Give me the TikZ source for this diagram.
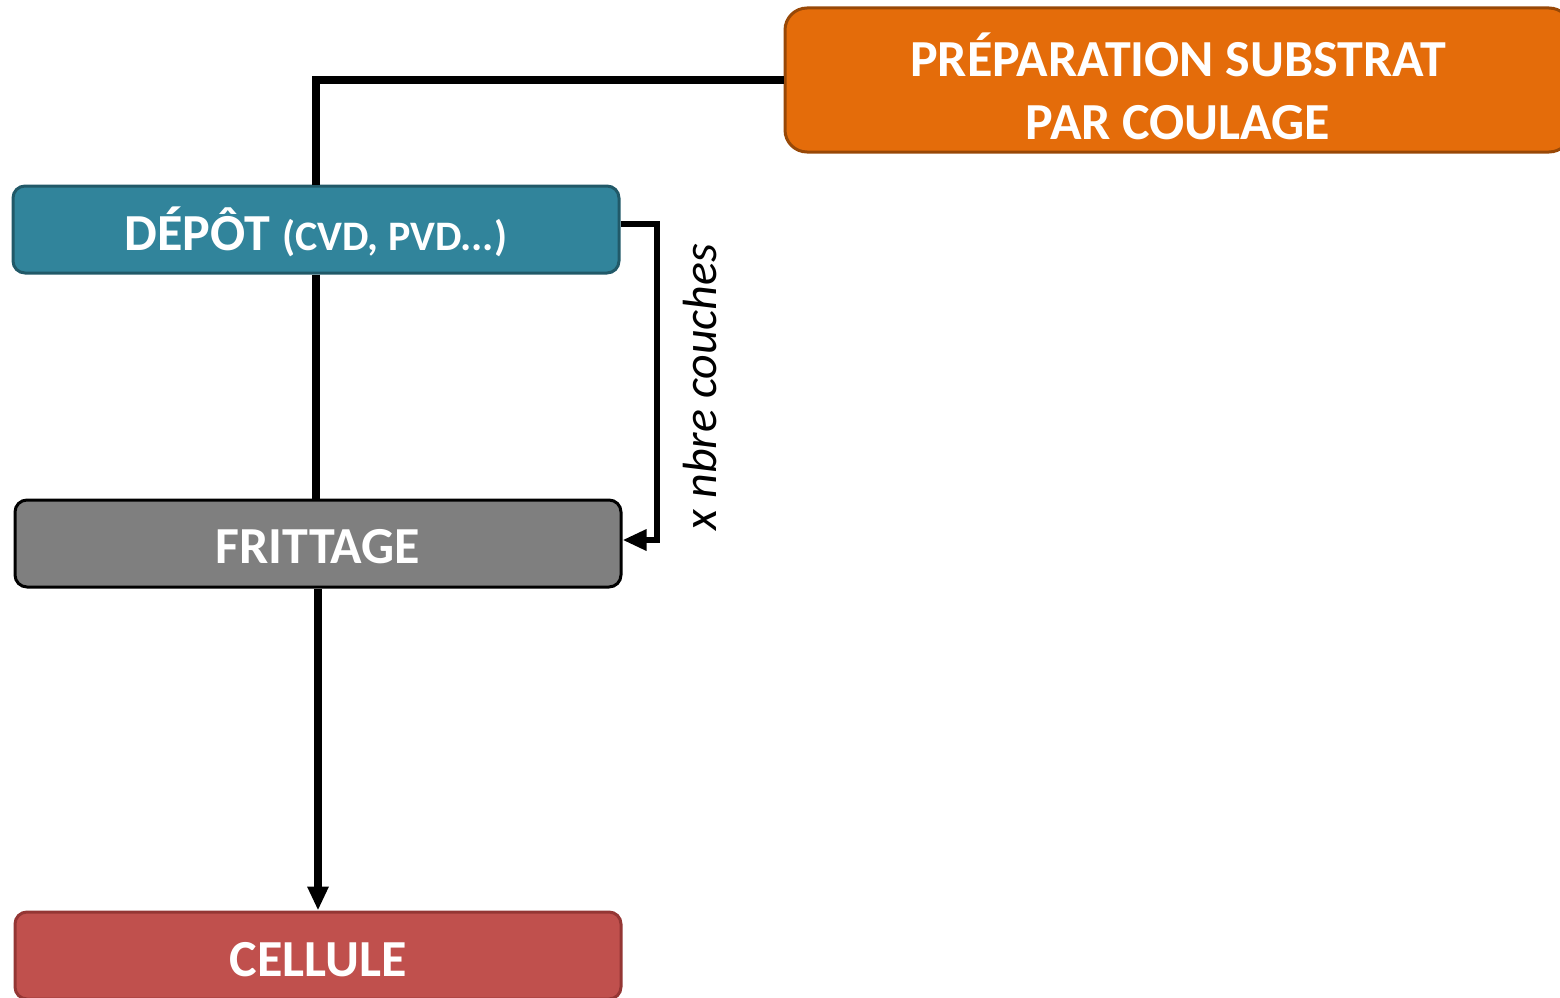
\documentclass[tikz,border=0pt]{standalone}
\usepackage{fontspec}
\setmainfont{Carlito}
\usetikzlibrary{arrows.meta}
\definecolor{orfill}{HTML}{E46C0A}
\definecolor{ordraw}{HTML}{984807}
\definecolor{tefill}{HTML}{31849B}
\definecolor{tedraw}{HTML}{215968}
\definecolor{grfill}{HTML}{7F7F7F}
\definecolor{refill}{HTML}{C0504D}
\definecolor{redraw}{HTML}{943634}
\tikzset{
  procbox/.style={rectangle, rounded corners=12pt, line width=3pt, text=white,
    font=\bfseries\fontsize{52}{63}\selectfont, minimum width=606pt, minimum height=87pt,
    inner sep=0pt, text height=33pt, text depth=0pt},
  conn/.style={line width=7.5pt, black},
  arr/.style={conn, -{Triangle[length=24pt,width=20pt]}},
}
\begin{document}
\begin{tikzpicture}[x=1pt,y=-1pt]
\useasboundingbox (0,0) rectangle (1560,998);
\node[procbox, fill=orfill, draw=ordraw, rounded corners=22pt, minimum width=786pt,
  minimum height=144pt, text height=40pt, text depth=48pt] (prep) at (1178,80)
  {\begin{tabular}[t]{@{}c@{}}PRÉPARATION SUBSTRAT\\PAR COULAGE\end{tabular}};
\node[procbox, fill=tefill, draw=tedraw] (dep) at (316,229.5)
  {\raisebox{-4pt}{DÉPÔT {\fontsize{42}{50}\selectfont(CVD, PVD...)}}};
\node[procbox, fill=grfill, draw=black] (frit) at (318,543.5)
  {\raisebox{-3pt}{FRITTAGE}};
\node[procbox, fill=refill, draw=redraw] (cell) at (318,955.5)
  {\raisebox{-4pt}{CELLULE}};
\coordinate (lp) at (657,224);
\draw[conn] (prep.west) -| (dep.north);
\draw[conn] (dep.south) -- (dep.south |- frit.north);
\draw[arr] (frit.south) -- (cell.north);
\draw[arr, line width=6.5pt] ([yshift=5.5pt]dep.east) -- (lp) |- ([yshift=3.5pt]frit.east);
\node[rotate=90, font=\itshape\fontsize{48}{56}\selectfont, inner sep=0pt] (lab) at (700,387) {x nbre couches};
\end{tikzpicture}
\end{document}
